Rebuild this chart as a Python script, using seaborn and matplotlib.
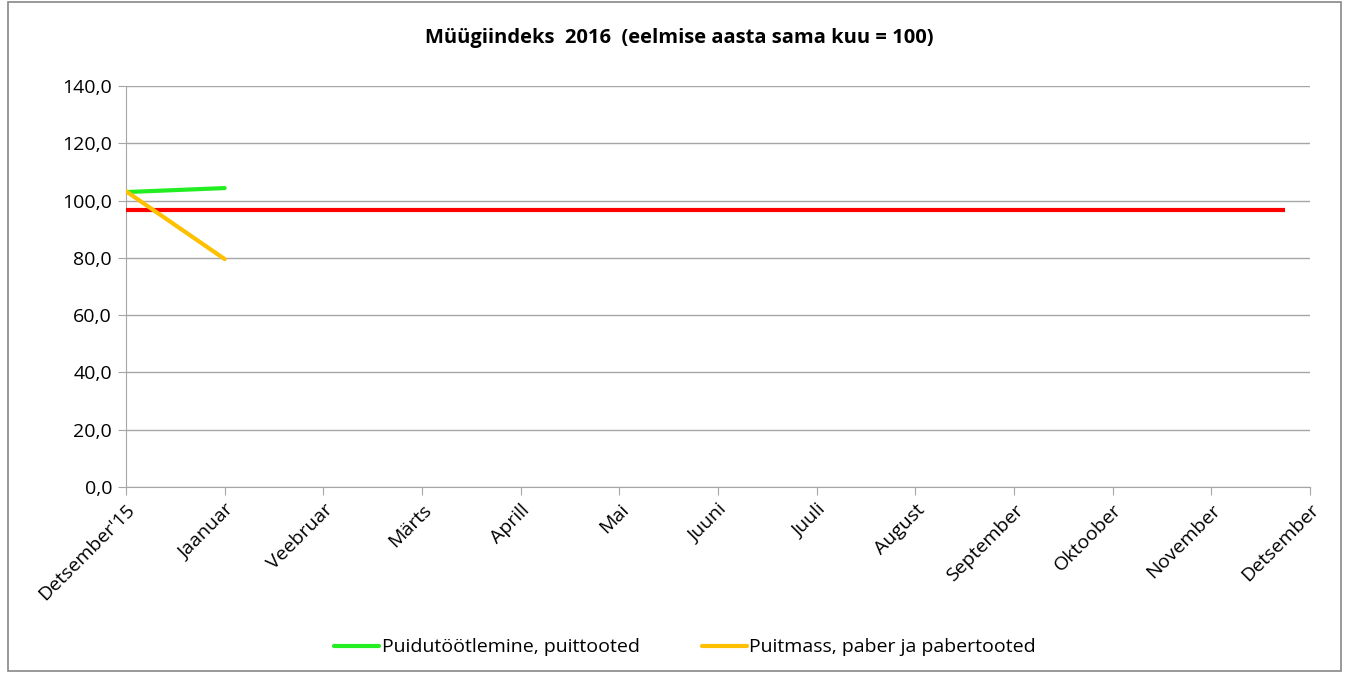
import pandas as pd
import matplotlib.pyplot as plt
import seaborn as sns
from matplotlib.patches import Rectangle

sns.set_style("white")
plt.rcParams['font.family'] = ['Open Sans', 'DejaVu Sans']
plt.rcParams['text.color'] = 'black'
plt.rcParams['xtick.color'] = 'black'
plt.rcParams['ytick.color'] = 'black'

months = ["Detsember'15", "Jaanuar", "Veebruar", "Märts", "Aprill", "Mai", "Juuni",
          "Juuli", "August", "September", "Oktoober", "November", "Detsember"]
puidu = [103.0, 104.4]
puitmass = [103.3, 79.6]
red_level = 96.8
yticks = [0, 20, 40, 60, 80, 100, 120, 140]

df = pd.DataFrame({
    "kuu": list(range(len(puidu))) + list(range(len(puitmass))),
    "indeks": puidu + puitmass,
    "seeria": ["Puidutöötlemine, puittooted"] * len(puidu) + ["Puitmass, paber ja pabertooted"] * len(puitmass),
})

fig = plt.figure(figsize=(13.46, 6.73), dpi=100)
ax = fig.add_axes([0.0936, 0.2764, 0.8797, 0.5956])

ax.hlines(red_level, -0.07, 11.75, color="#ff0000", lw=3, zorder=3)
sns.lineplot(data=df, x="kuu", y="indeks", hue="seeria",
             palette=["#22ee22", "#ffc000"], lw=3, ax=ax, zorder=4)

ax.set_xlim(0, len(months) - 1)
ax.set_ylim(0, 140)
ax.set_yticks(yticks)
ax.set_yticklabels([f"{v:.1f}".replace(".", ",") for v in yticks], fontsize=14)
ax.set_xticks(range(len(months)))
ax.set_xticklabels(months, rotation=45, ha="right", rotation_mode="anchor", fontsize=14)
ax.yaxis.grid(True, color="#a6a6a6", lw=1)
ax.set_axisbelow(True)
for s in ["top", "right"]:
    ax.spines[s].set_visible(False)
for s in ["left", "bottom"]:
    ax.spines[s].set_color("#a6a6a6")
ax.tick_params(axis="both", which="major", length=6, color="#a6a6a6", direction="out",
               left=True, bottom=True, pad=4)
ax.set_xlabel("")
ax.set_ylabel("")

fig.suptitle("Müügiindeks  2016  (eelmise aasta sama kuu = 100)", fontsize=14.5,
             fontweight="bold", y=0.958, x=0.505)

ax.get_legend().remove()
h, l = ax.get_legend_handles_labels()
fig.legend(h, l, loc="center", bbox_to_anchor=(0.509, 0.038), ncol=2, frameon=False,
           fontsize=14, handlelength=2.3, handletextpad=0.15, columnspacing=3.2)

fig.patches.append(Rectangle((0.006, 0.003), 0.99, 0.994, transform=fig.transFigure,
                             fill=False, edgecolor="#888888", lw=1.2))

fig.savefig("out.png", dpi=100)
